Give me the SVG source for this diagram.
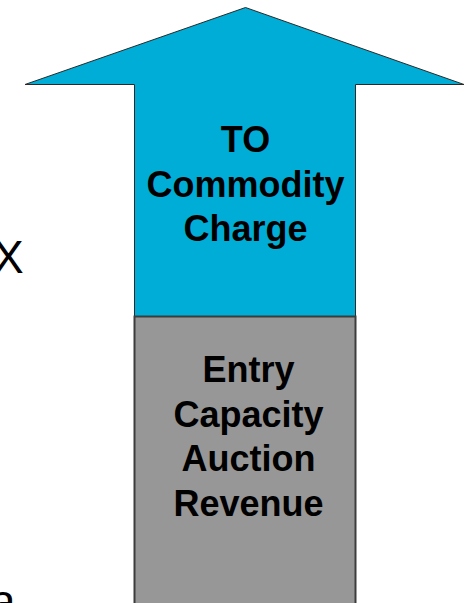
<svg xmlns="http://www.w3.org/2000/svg" width="468" height="603" viewBox="0 0 468 603">
  <style>
    .lbl { font-family: "Liberation Sans", Arial, sans-serif; font-weight: bold; font-size: 36px; fill: #000; text-anchor: middle; }
    .side { font-family: "Liberation Sans", Arial, sans-serif; font-size: 46px; fill: #000; }
  </style>
  <rect width="468" height="603" fill="#fff"/>

  <!-- clipped side text -->
  <text class="side" x="-7" y="273">X</text>
  <text class="side" x="-10" y="617">a</text>

  <!-- upper part: arrow carrying the commodity charge -->
  <g id="to-commodity-charge">
    <path d="M245.5 7.5 L464 84.5 L355.5 84.5 L355.5 316.5 L134.5 316.5 L134.5 84.5 L25 84.5 Z"
          fill="#00ADD7" stroke="#2a2a2a" stroke-width="1"/>
    <text class="lbl" x="245.5" y="152">TO</text>
    <text class="lbl" x="245.5" y="197">Commodity</text>
    <text class="lbl" x="245.5" y="241">Charge</text>
  </g>

  <!-- lower part: auction revenue block -->
  <g id="entry-capacity-auction-revenue">
    <rect x="134.5" y="316.5" width="221" height="300" fill="#979797" stroke="#3c3c3c" stroke-width="2"/>
    <text class="lbl" x="248.5" y="382">Entry</text>
    <text class="lbl" x="248.5" y="427">Capacity</text>
    <text class="lbl" x="248.5" y="471">Auction</text>
    <text class="lbl" x="248.5" y="516">Revenue</text>
  </g>
</svg>
